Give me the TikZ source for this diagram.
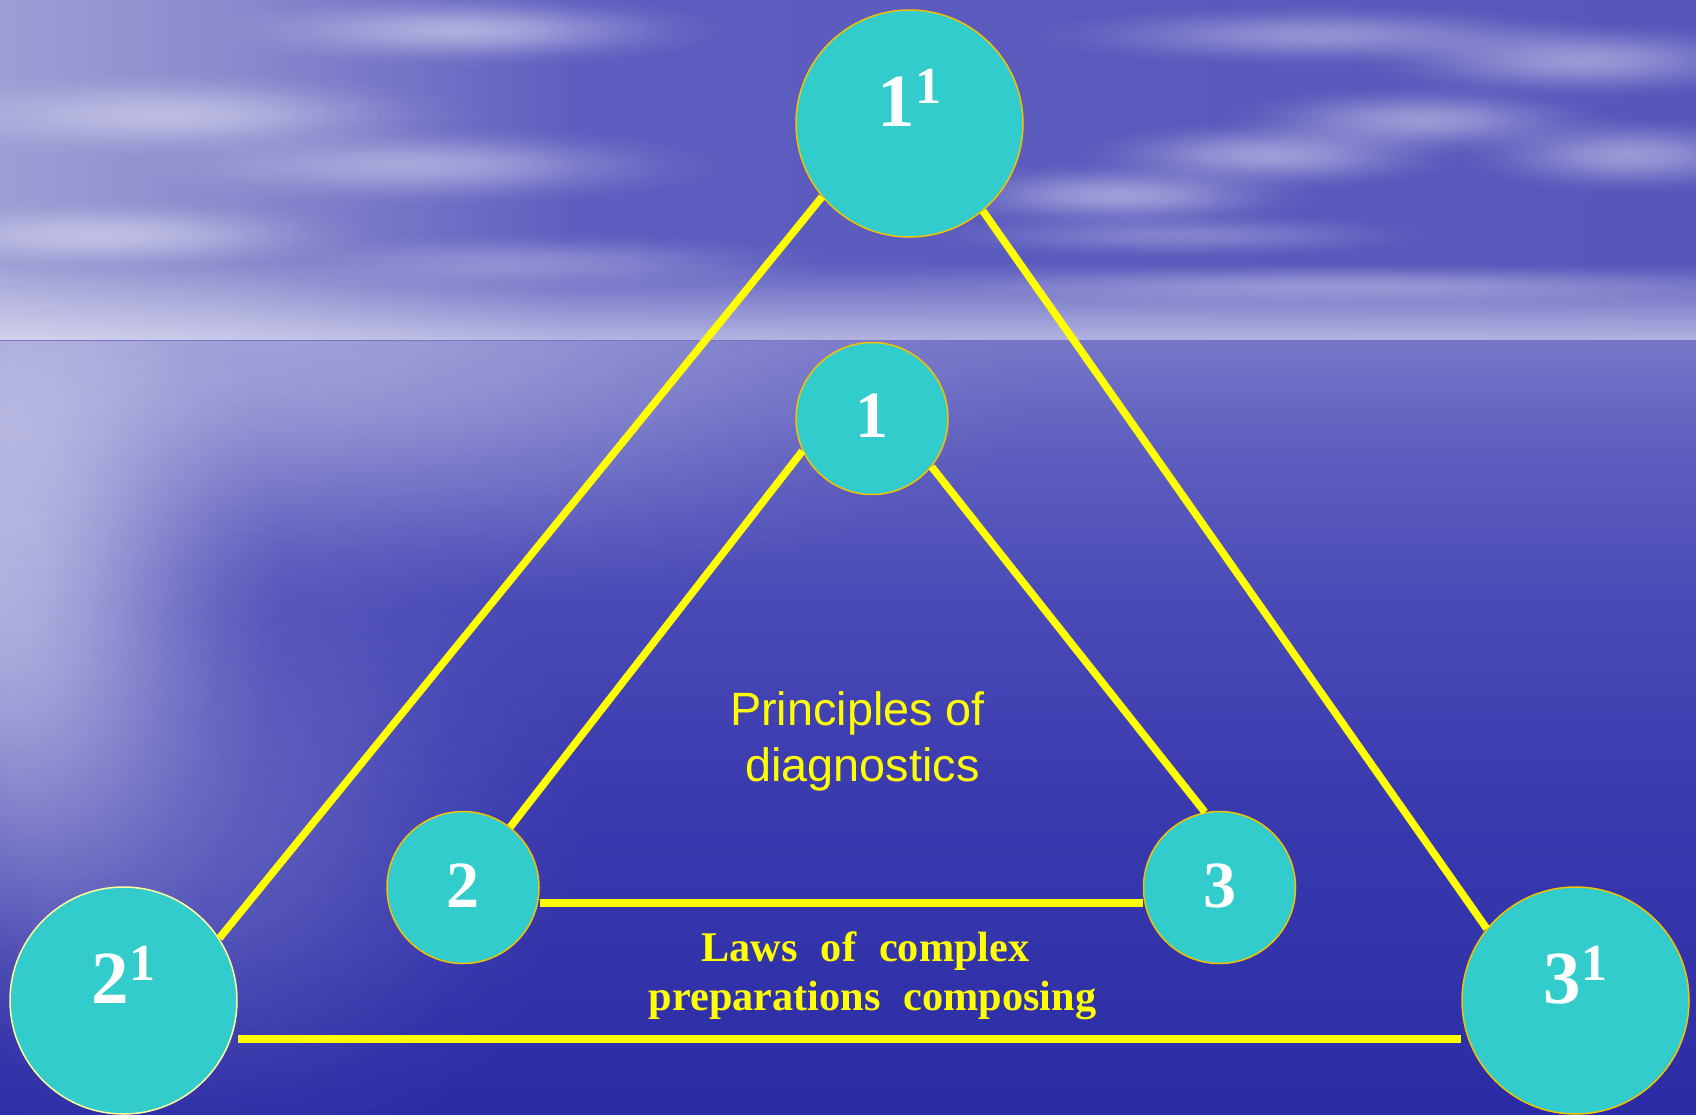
\documentclass[tikz,border=0pt]{standalone}
\usepackage{fontspec}
\setmainfont{Liberation Serif}
\newfontfamily\arialf{Liberation Sans}
\usetikzlibrary{fadings}
\definecolor{turq}{HTML}{33CCCC}
\definecolor{rimgold}{HTML}{F2C200}
\definecolor{rimpale}{HTML}{FFFF99}
\definecolor{lineyel}{HTML}{FFFF00}
\definecolor{seaA}{HTML}{2B2BA5}
\definecolor{seaB}{HTML}{3A3AAF}
\definecolor{seaC}{HTML}{4A4AB7}
\definecolor{seaD}{HTML}{5E5EBF}
\definecolor{seaE}{HTML}{7676C8}
\definecolor{skyA}{HTML}{9E9ED6}
\definecolor{skyB}{HTML}{8A8ACE}
\definecolor{skyC}{HTML}{5E5EC0}
\definecolor{skyD}{HTML}{5656BB}
\pgfdeclareverticalshading{seashade}{100bp}{color(0bp)=(seaA); color(25bp)=(seaA); color(45.3bp)=(seaB); color(58.2bp)=(seaC); color(67.9bp)=(seaD); color(75bp)=(seaE); color(100bp)=(seaE)}
\pgfdeclarehorizontalshading{skyshade}{100bp}{color(0bp)=(skyA); color(25bp)=(skyA); color(32bp)=(skyB); color(42bp)=(skyC); color(75bp)=(skyD); color(100bp)=(skyD)}
\pgfdeclareradialshading{blobshade}{\pgfpointorigin}{color(0bp)=(white); color(4bp)=(black!8); color(8bp)=(black!25); color(12bp)=(black!48); color(16bp)=(black!70); color(20bp)=(black!88); color(25bp)=(black); color(50bp)=(black)}
\pgfdeclarefading{smoothblob}{\pgfuseshading{blobshade}}
\tikzfading[name=bandfade, top color=transparent!100, bottom color=transparent!45]
\newcommand\supone{\raisebox{23pt}{\fontsize{52}{52}\selectfont 1}}
\begin{document}
\begin{tikzpicture}[x=1pt,y=-1pt,
  bigc/.style={circle, fill=turq, draw=rimgold, line width=1.5pt, minimum size=227pt, inner sep=0pt},
  smallc/.style={circle, fill=turq, draw=rimgold, line width=1.5pt, minimum size=152pt, inner sep=0pt},
  bignum/.style={text=white, font=\fontsize{75}{75}\selectfont\bfseries, anchor=base, inner sep=0pt},
  smallnum/.style={text=white, font=\fontsize{66}{66}\selectfont\bfseries, anchor=base, inner sep=0pt},
  link/.style={draw=lineyel, line width=7.5pt},
  cloudblob/.style={fill=white, path fading=smoothblob},
  sanslabel/.style={anchor=base, inner sep=0pt, text=lineyel, font=\arialf\fontsize{46.8}{56}\selectfont},
  seriflabel/.style={anchor=base, inner sep=0pt, text=lineyel, font={\bfseries\fontsize{42.3}{49}\selectfont\spaceskip=23pt\relax}},
]
\useasboundingbox (0,0) rectangle (1696,1114);
% background: sky
\shade[shading=skyshade] (-5,-5) rectangle (1701,342);
% clouds
\fill[cloudblob, opacity=.45] (470,30) ellipse [x radius=260, y radius=36];
\fill[cloudblob, opacity=.40] (180,115) ellipse [x radius=300, y radius=44];
\fill[cloudblob, opacity=.38] (430,165) ellipse [x radius=300, y radius=40];
\fill[cloudblob, opacity=.40] (110,235) ellipse [x radius=260, y radius=36];
\fill[cloudblob, opacity=.28] (540,262) ellipse [x radius=300, y radius=30];
\fill[cloudblob, opacity=.35] (1320,35) ellipse [x radius=300, y radius=32];
\fill[cloudblob, opacity=.40] (1580,60) ellipse [x radius=230, y radius=40];
\fill[cloudblob, opacity=.42] (1120,195) ellipse [x radius=200, y radius=34];
\fill[cloudblob, opacity=.42] (1270,155) ellipse [x radius=200, y radius=36];
\fill[cloudblob, opacity=.40] (1420,120) ellipse [x radius=200, y radius=36];
\fill[cloudblob, opacity=.40] (1630,155) ellipse [x radius=180, y radius=40];
\fill[cloudblob, opacity=.26] (1180,235) ellipse [x radius=270, y radius=24];
\fill[cloudblob, opacity=.26] (1350,285) ellipse [x radius=480, y radius=22];
% horizon band
\fill[white, path fading=bandfade] (-10,262) rectangle (1710,341);
% sea
\shade[shading=seashade] (-5,340) rectangle (1701,1120);
\begin{scope}
\clip (-5,341) rectangle (1701,1120);
\fill[cloudblob, opacity=.32] (250,380) ellipse [x radius=800, y radius=240];
\fill[cloudblob, opacity=.55] (0,580) ellipse [x radius=280, y radius=460];
\fill[cloudblob, opacity=.20] (180,820) ellipse [x radius=420, y radius=380];
\end{scope}
% circles
\node[bigc] (c11) at (909.5,123.5) {};
\node[bigc, draw=rimpale] (c21) at (123.5,1000.5) {};
\node[bigc] (c31) at (1575.5,1000.5) {};
\node[smallc] (c1) at (872,418.5) {};
\node[smallc] (c2) at (463,887.5) {};
\node[smallc] (c3) at (1219.5,887.5) {};
% connectors
\draw[link] (c11.220) -- (c21.33);
\draw[link] (c11.310) -- (c31.141);
\draw[link] ([yshift=-38.5pt]c21.east) -- ([yshift=-38.5pt]c31.west);
\draw[link] (c1.205) -- (c2.52);
\draw[link] (c1.321) -- (c3.101);
\draw[link] ([yshift=-15.5pt]c2.east) -- ([yshift=-15.5pt]c3.west);
% numbers
\node[bignum] (t11) at (909.5,126) {1\supone};
\node[bignum] (t21) at (123.5,1003) {2\supone};
\node[bignum] (t31) at (1575.5,1003) {3\supone};
\node[smallnum] (t1) at (872,437) {1};
\node[smallnum] (t2) at (463,907) {2};
\node[smallnum] (t3) at (1219.5,907) {3};
% texts
\node[sanslabel] (pd1) at (857.5,725) {Principles of};
\node[sanslabel] (pd2) at (862.5,781) {diagnostics};
\node[seriflabel] (lw1) at (865.5,961) {Laws of complex};
\node[seriflabel] (lw2) at (872.5,1010) {preparations composing};
\end{tikzpicture}
\end{document}
